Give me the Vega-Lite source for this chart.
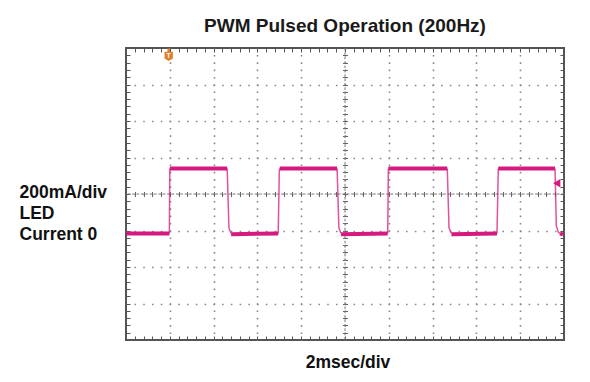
{
  "$schema": "https://vega.github.io/schema/vega-lite/v6.json",
  "width": 438,
  "height": 292,
  "autosize": {"type": "none"},
  "padding": {"left": 126, "top": 48, "right": 26, "bottom": 42},
  "background": "white",
  "title": {
    "text": "PWM Pulsed Operation (200Hz)",
    "font": "Liberation Sans",
    "fontSize": 19,
    "fontWeight": "bold",
    "color": "#1a1a1a",
    "anchor": "middle",
    "frame": "group",
    "baseline": "alphabetic",
    "offset": -3
  },
  "config": {
    "view": {"stroke": "#555555", "strokeWidth": 2},
    "axis": {"labels": false, "domain": false, "title": null}
  },
  "datasets": {
    "trace": [
      {"seg": "L0", "kind": "level", "t": 0.02, "current": 0},
      {"seg": "L0", "kind": "level", "t": 1.98, "current": 0},
      {"seg": "R1", "kind": "edge", "t": 1.98, "current": 0},
      {"seg": "R1", "kind": "edge", "t": 2.0, "current": 356},
      {"seg": "H1", "kind": "level", "t": 2.0, "current": 356},
      {"seg": "H1", "kind": "level", "t": 4.62, "current": 356},
      {"seg": "F1", "kind": "edge", "t": 4.62, "current": 356},
      {"seg": "F1", "kind": "edge", "t": 4.7, "current": 30},
      {"seg": "F1", "kind": "edge", "t": 4.8, "current": 0},
      {"seg": "L1", "kind": "level", "t": 4.8, "current": -4},
      {"seg": "L1", "kind": "level", "t": 6.95, "current": 0},
      {"seg": "R2", "kind": "edge", "t": 6.95, "current": 0},
      {"seg": "R2", "kind": "edge", "t": 7.0, "current": 340},
      {"seg": "R2", "kind": "edge", "t": 7.02, "current": 356},
      {"seg": "H2", "kind": "level", "t": 7.02, "current": 356},
      {"seg": "H2", "kind": "level", "t": 9.64, "current": 356},
      {"seg": "F2", "kind": "edge", "t": 9.64, "current": 356},
      {"seg": "F2", "kind": "edge", "t": 9.72, "current": 30},
      {"seg": "F2", "kind": "edge", "t": 9.82, "current": 0},
      {"seg": "L2", "kind": "level", "t": 9.82, "current": -4},
      {"seg": "L2", "kind": "level", "t": 11.95, "current": 0},
      {"seg": "R3", "kind": "edge", "t": 11.95, "current": 0},
      {"seg": "R3", "kind": "edge", "t": 11.98, "current": 356},
      {"seg": "H3", "kind": "level", "t": 11.98, "current": 356},
      {"seg": "H3", "kind": "level", "t": 14.67, "current": 356},
      {"seg": "F3", "kind": "edge", "t": 14.67, "current": 356},
      {"seg": "F3", "kind": "edge", "t": 14.75, "current": 30},
      {"seg": "F3", "kind": "edge", "t": 14.86, "current": 0},
      {"seg": "L3", "kind": "level", "t": 14.86, "current": -4},
      {"seg": "L3", "kind": "level", "t": 16.94, "current": 0},
      {"seg": "R4", "kind": "edge", "t": 16.94, "current": 0},
      {"seg": "R4", "kind": "edge", "t": 17.0, "current": 356},
      {"seg": "H4", "kind": "level", "t": 17.0, "current": 356},
      {"seg": "H4", "kind": "level", "t": 19.59, "current": 356},
      {"seg": "F4", "kind": "edge", "t": 19.59, "current": 356},
      {"seg": "F4", "kind": "edge", "t": 19.65, "current": 40},
      {"seg": "F4", "kind": "edge", "t": 19.75, "current": 5},
      {"seg": "F4", "kind": "edge", "t": 19.82, "current": 0},
      {"seg": "L4", "kind": "level", "t": 19.82, "current": 0},
      {"seg": "L4", "kind": "level", "t": 19.95, "current": -6}
    ],
    "centerV": [{"t": 10}],
    "centerH": [{"current": 216}],
    "trigger": [{"t": 1.95, "current": 970, "label": "T"}],
    "level": [{"t": 19.67, "current": 275}]
  },
  "resolve": {"axis": {"x": "independent", "y": "independent"}},
  "layer": [
    {
      "data": {"name": "centerV"},
      "mark": {"type": "rule", "color": "#777777", "strokeWidth": 1, "strokeDash": [2.6, 1.78]},
      "encoding": {
        "x": {
          "field": "t", "type": "quantitative",
          "scale": {"domain": [0, 20], "nice": false, "zero": false},
          "axis": {
            "orient": "top", "grid": false, "ticks": true, "tickSize": -4, "tickColor": "#555555", "tickWidth": 1,
            "values": [0,0.4,0.8,1.2,1.6,2,2.4,2.8,3.2,3.6,4,4.4,4.8,5.2,5.6,6,6.4,6.8,7.2,7.6,8,8.4,8.8,9.2,9.6,10,10.4,10.8,11.2,11.6,12,12.4,12.8,13.2,13.6,14,14.4,14.8,15.2,15.6,16,16.4,16.8,17.2,17.6,18,18.4,18.8,19.2,19.6,20]
          }
        }
      }
    },
    {
      "data": {"name": "centerH"},
      "mark": {"type": "rule", "color": "#777777", "strokeWidth": 1, "strokeDash": [2.6, 1.78]},
      "encoding": {
        "y": {
          "field": "current", "type": "quantitative",
          "scale": {"domain": [-584, 1016], "nice": false, "zero": false},
          "axis": {
            "orient": "right", "grid": false, "ticks": true, "tickSize": -4, "tickColor": "#555555", "tickWidth": 1,
            "values": [-584,-544,-504,-464,-424,-384,-344,-304,-264,-224,-184,-144,-104,-64,-24,16,56,96,136,176,216,256,296,336,376,416,456,496,536,576,616,656,696,736,776,816,856,896,936,976,1016]
          }
        }
      }
    },
    {
      "data": {"name": "trace"},
      "mark": {"type": "line", "color": "#d6197e", "strokeCap": "butt", "interpolate": "linear"},
      "encoding": {
        "x": {
          "field": "t", "type": "quantitative",
          "scale": {"domain": [0, 20], "nice": false, "zero": false},
          "axis": {
            "orient": "bottom", "ticks": true, "tickSize": -4, "tickColor": "#555555", "tickWidth": 1,
            "grid": true, "gridColor": "#8a8a8a", "gridWidth": 1.6, "gridDash": [1.6, 5.7], "gridDashOffset": 0.8,
            "gridOpacity": {"condition": {"test": "datum.value % 2 === 0 && datum.value > 0 && datum.value < 20", "value": 1}, "value": 0},
            "values": [0,0.4,0.8,1.2,1.6,2,2.4,2.8,3.2,3.6,4,4.4,4.8,5.2,5.6,6,6.4,6.8,7.2,7.6,8,8.4,8.8,9.2,9.6,10,10.4,10.8,11.2,11.6,12,12.4,12.8,13.2,13.6,14,14.4,14.8,15.2,15.6,16,16.4,16.8,17.2,17.6,18,18.4,18.8,19.2,19.6,20],
            "title": "2msec/div", "titleFont": "Liberation Sans", "titleFontSize": 17.5, "titleFontWeight": "bold", "titleColor": "#111111",
            "titleBaseline": "alphabetic", "titleAlign": "center", "titleX": 221.5, "titleY": 27
          }
        },
        "y": {
          "field": "current", "type": "quantitative",
          "scale": {"domain": [-584, 1016], "nice": false, "zero": false},
          "axis": {
            "orient": "left", "ticks": true, "tickSize": -4, "tickColor": "#555555", "tickWidth": 1,
            "grid": true, "gridColor": "#8a8a8a", "gridWidth": 1.6, "gridDash": [1.6, 7.16], "gridDashOffset": 0.8,
            "gridOpacity": {"condition": {"test": "(datum.value + 584) % 200 === 0 && datum.value > -584 && datum.value < 1016", "value": 1}, "value": 0},
            "values": [-584,-544,-504,-464,-424,-384,-344,-304,-264,-224,-184,-144,-104,-64,-24,16,56,96,136,176,216,256,296,336,376,416,456,496,536,576,616,656,696,736,776,816,856,896,936,976,1016],
            "title": ["200mA/div", "LED", "Current 0"], "titleFont": "Liberation Sans", "titleFontSize": 17.5, "titleFontWeight": "bold", "titleColor": "#111111",
            "titleAngle": 0, "titleAlign": "left", "titleBaseline": "alphabetic", "titleX": -107, "titleY": 149, "titleLineHeight": 21
          }
        },
        "detail": {"field": "seg", "type": "nominal"},
        "strokeWidth": {"field": "kind", "type": "nominal", "scale": {"domain": ["level", "edge"], "range": [4, 1.5]}, "legend": null},
        "opacity": {"field": "kind", "type": "nominal", "scale": {"domain": ["level", "edge"], "range": [1, 0.75]}, "legend": null}
      }
    },
    {
      "data": {"name": "trigger"},
      "mark": {"type": "point", "filled": true, "color": "#e0802a", "opacity": 1, "size": 70, "shape": "M-1,-1.1 L1,-1.1 L1,0.5 L0,1.1 L-1,0.5 Z M-0.3,-1.1 L0.3,-1.1 L0.3,-1.9 L-0.3,-1.9 Z"},
      "encoding": {
        "x": {
          "field": "t", "type": "quantitative",
          "scale": {"domain": [0, 20], "nice": false, "zero": false},
          "axis": {
            "orient": "bottom", "offset": -148.5, "ticks": true, "tickSize": 5, "tickColor": "#666666", "tickWidth": 1, "grid": false,
            "values": [0.4,0.8,1.2,1.6,2,2.4,2.8,3.2,3.6,4,4.4,4.8,5.2,5.6,6,6.4,6.8,7.2,7.6,8,8.4,8.8,9.2,9.6,10,10.4,10.8,11.2,11.6,12,12.4,12.8,13.2,13.6,14,14.4,14.8,15.2,15.6,16,16.4,16.8,17.2,17.6,18,18.4,18.8,19.2,19.6]
          }
        },
        "y": {
          "field": "current", "type": "quantitative",
          "scale": {"domain": [-584, 1016], "nice": false, "zero": false},
          "axis": {
            "orient": "left", "offset": -221.5, "ticks": true, "tickSize": 5, "tickColor": "#666666", "tickWidth": 1, "grid": false,
            "values": [-544,-504,-464,-424,-384,-344,-304,-264,-224,-184,-144,-104,-64,-24,16,56,96,136,176,216,256,296,336,376,416,456,496,536,576,616,656,696,736,776,816,856,896,936,976]
          }
        }
      }
    },
    {
      "data": {"name": "trigger"},
      "mark": {"type": "text", "color": "white", "font": "Liberation Sans", "fontSize": 7, "fontWeight": "bold", "baseline": "middle", "align": "center"},
      "encoding": {
        "x": {"field": "t", "type": "quantitative", "scale": {"domain": [0, 20], "nice": false, "zero": false}, "axis": null},
        "y": {"field": "current", "type": "quantitative", "scale": {"domain": [-584, 1016], "nice": false, "zero": false}, "axis": null},
        "text": {"field": "label"}
      }
    },
    {
      "data": {"name": "level"},
      "mark": {"type": "point", "filled": true, "color": "#d6197e", "opacity": 1, "size": 70, "shape": "triangle-left"},
      "encoding": {
        "x": {"field": "t", "type": "quantitative", "scale": {"domain": [0, 20], "nice": false, "zero": false}, "axis": null},
        "y": {"field": "current", "type": "quantitative", "scale": {"domain": [-584, 1016], "nice": false, "zero": false}, "axis": null}
      }
    }
  ]
}
